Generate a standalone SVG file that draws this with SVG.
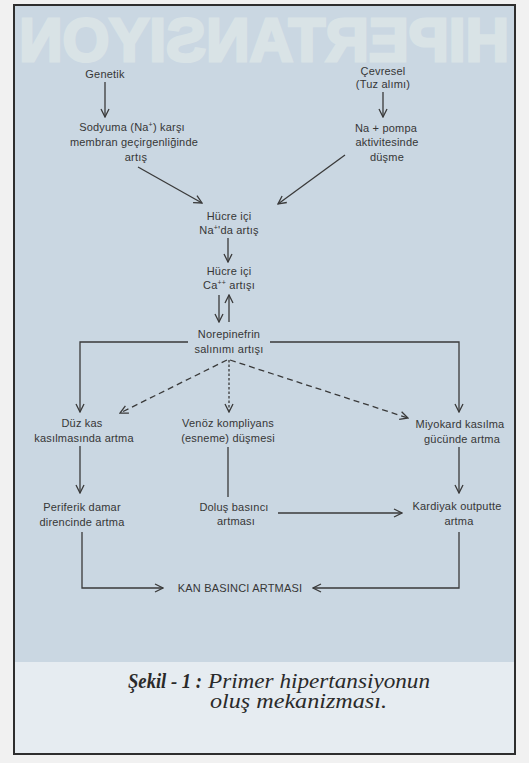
<svg xmlns="http://www.w3.org/2000/svg" width="529" height="763" viewBox="0 0 529 763">
<defs>
<style>
.t{font-family:"Liberation Sans",Arial,sans-serif;font-size:11px;fill:#363636;text-anchor:middle;letter-spacing:0.2px}
.sup{font-size:7px}
.c{stroke:#3a3a3a;stroke-width:1.3;fill:none}
.dash{stroke-dasharray:6 4}
.dot{stroke-dasharray:2.5 2}
.cap{font-family:"Liberation Serif","Times New Roman",serif;font-style:italic;font-size:20px;fill:#2a2a2a}
.wm{font-family:"Liberation Sans",Arial,sans-serif;font-weight:bold;font-size:62px;fill:#e4ecea;stroke:#e4ecea;stroke-width:3;opacity:0.6}
</style>
<marker id="ah" viewBox="0 0 10 10" refX="9" refY="5" markerWidth="10" markerHeight="10" markerUnits="userSpaceOnUse" orient="auto">
<path d="M1,1 L9,5 L1,9" fill="none" stroke="#3a3a3a" stroke-width="1.3"/>
</marker>
</defs>

<rect x="0" y="0" width="529" height="763" fill="#f1f1f1"/>
<rect x="14" y="5" width="501" height="657" fill="#cad7e2"/>
<rect x="14" y="662" width="501" height="92" fill="#e6ecf1"/>

<g id="showthrough">
<text class="wm" transform="matrix(-1 0 0 1 529 0)" x="20" y="61" textLength="490" lengthAdjust="spacingAndGlyphs">HIPERTANSIYON</text>
</g>

<rect x="14" y="5" width="501" height="749" fill="none" stroke="#2e2e2e" stroke-width="2"/>

<g id="connectors">
<line class="c" x1="105" y1="82" x2="105" y2="117" marker-end="url(#ah)"/>
<line class="c" x1="383" y1="92" x2="383" y2="117" marker-end="url(#ah)"/>
<line class="c" x1="138" y1="167" x2="202" y2="203" marker-end="url(#ah)"/>
<line class="c" x1="345" y1="155" x2="278" y2="204" marker-end="url(#ah)"/>
<line class="c" x1="228" y1="238" x2="228" y2="262" marker-end="url(#ah)"/>
<line class="c" x1="219" y1="295" x2="219" y2="322" marker-end="url(#ah)"/>
<line class="c" x1="229" y1="322" x2="229" y2="295" marker-end="url(#ah)"/>
<polyline class="c" points="188,342 80,342 80,412" marker-end="url(#ah)"/>
<polyline class="c" points="270,342 459,342 459,412" marker-end="url(#ah)"/>
<line class="c dash" x1="227" y1="360" x2="120" y2="413" marker-end="url(#ah)"/>
<line class="c dash" x1="230" y1="360" x2="408" y2="418" marker-end="url(#ah)"/>
<line class="c dot" x1="229" y1="360" x2="229" y2="412" marker-end="url(#ah)"/>
<line class="c" x1="80" y1="446" x2="80" y2="493" marker-end="url(#ah)"/>
<line class="c" x1="228" y1="447" x2="228" y2="497"/>
<line class="c" x1="459" y1="447" x2="459" y2="493" marker-end="url(#ah)"/>
<line class="c" x1="278" y1="513" x2="402" y2="513" marker-end="url(#ah)"/>
<polyline class="c" points="82,532 82,588 163,588" marker-end="url(#ah)"/>
<polyline class="c" points="459,532 459,588 313,588" marker-end="url(#ah)"/>
</g>

<g id="n-genetik"><text class="t" x="105" y="78">Genetik</text></g>
<g id="n-cevresel"><text class="t" x="383" y="75">Çevresel</text><text class="t" x="383" y="88">(Tuz alımı)</text></g>
<g id="n-sodyuma">
<text class="t" x="132" y="131">Sodyuma (Na<tspan class="sup" dy="-4">+</tspan><tspan dy="4">) karşı</tspan></text>
<text class="t" x="134" y="146">membran geçirgenliğinde</text>
<text class="t" x="136" y="161">artış</text>
</g>
<g id="n-napompa">
<text class="t" x="386" y="132">Na + pompa</text>
<text class="t" x="387" y="146">aktivitesinde</text>
<text class="t" x="387" y="161">düşme</text>
</g>
<g id="n-hucre-na">
<text class="t" x="229" y="220">Hücre içi</text>
<text class="t" x="229" y="234">Na<tspan class="sup" dy="-4">+</tspan><tspan dy="4">'da artış</tspan></text>
</g>
<g id="n-hucre-ca">
<text class="t" x="229" y="275">Hücre içi</text>
<text class="t" x="229" y="289">Ca<tspan class="sup" dy="-4">++</tspan><tspan dy="4"> artışı</tspan></text>
</g>
<g id="n-norepinefrin">
<text class="t" x="229" y="338">Norepinefrin</text>
<text class="t" x="229" y="353">salınımı artışı</text>
</g>
<g id="n-duzkas">
<text class="t" x="82" y="427">Düz kas</text>
<text class="t" x="84" y="442">kasılmasında artma</text>
</g>
<g id="n-venoz">
<text class="t" x="228" y="427">Venöz kompliyans</text>
<text class="t" x="228" y="442">(esneme) düşmesi</text>
</g>
<g id="n-miyokard">
<text class="t" x="460" y="428">Miyokard kasılma</text>
<text class="t" x="462" y="443">gücünde artma</text>
</g>
<g id="n-periferik">
<text class="t" x="82" y="511">Periferik damar</text>
<text class="t" x="82" y="526">direncinde artma</text>
</g>
<g id="n-dolus">
<text class="t" x="234" y="511">Doluş basıncı</text>
<text class="t" x="236" y="525">artması</text>
</g>
<g id="n-kardiyak">
<text class="t" x="457" y="510">Kardiyak outputte</text>
<text class="t" x="459" y="525">artma</text>
</g>
<g id="n-kan"><text class="t" x="240" y="592">KAN BASINCI ARTMASI</text></g>

<g id="caption">
<text class="cap" x="128" y="688" font-weight="bold" textLength="74" lengthAdjust="spacingAndGlyphs">Şekil - 1 :</text>
<text class="cap" x="208" y="688" textLength="222" lengthAdjust="spacingAndGlyphs">Primer hipertansiyonun</text>
<text class="cap" x="210" y="708" textLength="177" lengthAdjust="spacingAndGlyphs">oluş mekanizması.</text>
</g>
</svg>
